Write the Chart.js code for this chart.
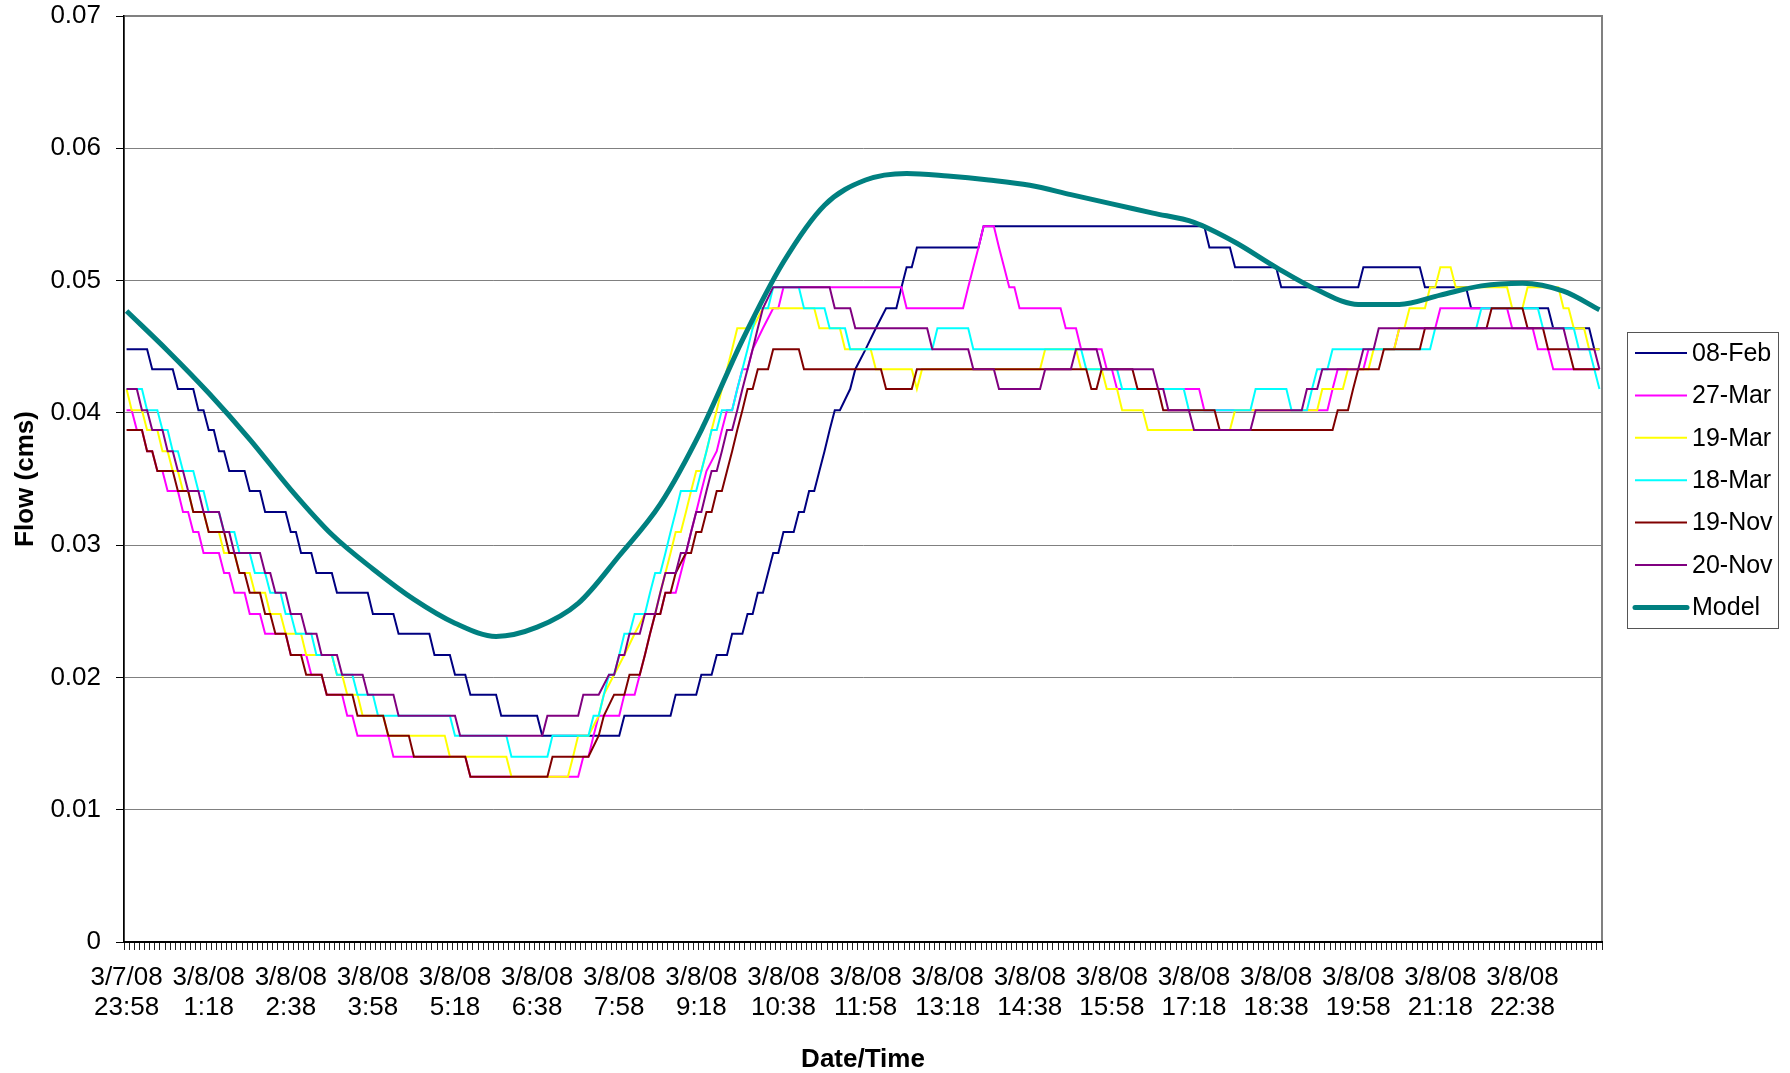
<!DOCTYPE html>
<html><head><meta charset="utf-8">
<script src="https://cdn.jsdelivr.net/npm/chart.js@4.4.0/dist/chart.umd.min.js"></script>
<style>
html,body{margin:0;padding:0;background:#fff;}
canvas{display:block;}
</style></head><body>
<canvas id="c" width="1790" height="1073"></canvas>
<script>
// x = sample index (5-minute samples starting 3/7/08 23:58), y = flow (cms)
const tickLabels = [["3/7/08","23:58"],["3/8/08","1:18"],["3/8/08","2:38"],["3/8/08","3:58"],["3/8/08","5:18"],["3/8/08","6:38"],["3/8/08","7:58"],["3/8/08","9:18"],["3/8/08","10:38"],["3/8/08","11:58"],["3/8/08","13:18"],["3/8/08","14:38"],["3/8/08","15:58"],["3/8/08","17:18"],["3/8/08","18:38"],["3/8/08","19:58"],["3/8/08","21:18"],["3/8/08","22:38"]];
const yTickLabels = ["0","0.01","0.02","0.03","0.04","0.05","0.06","0.07"];
const seriesNames = ["08-Feb","27-Mar","19-Mar","18-Mar","19-Nov","20-Nov","Model"];

const feb08 = [[0,.0448],[4,.0448],[5,.0433],[9,.0433],[10,.0418],[13,.0418],[14,.0402],[15,.0402],[16,.0387],[17,.0387],[18,.0371],[19,.0371],[20,.0356],[23,.0356],[24,.0341],[26,.0341],[27,.0325],[31,.0325],[32,.0310],[33,.0310],[34,.0294],[36,.0294],[37,.0279],[40,.0279],[41,.0264],[47,.0264],[48,.0248],[52,.0248],[53,.0233],[59,.0233],[60,.0217],[63,.0217],[64,.0202],[66,.0202],[67,.0187],[72,.0187],[73,.0171],[80,.0171],[81,.0156],[96,.0156],[97,.0171],[106,.0171],[107,.0187],[111,.0187],[112,.0202],[114,.0202],[115,.0217],[117,.0217],[118,.0233],[120,.0233],[121,.0248],[122,.0248],[123,.0264],[124,.0264],[126,.0294],[127,.0294],[128,.0310],[130,.0310],[131,.0325],[132,.0325],[133,.0341],[134,.0341],[135,.0356],[136,.0371],[137,.0387],[138,.0402],[139,.0402],[141,.0418],[142,.0433],[144,.0448],[146,.0464],[148,.0479],[150,.0479],[151,.0495],[152,.0510],[153,.0510],[154,.0525],[166,.0525],[167,.0541],[210,.0541],[211,.0525],[215,.0525],[216,.0510],[224,.0510],[225,.0495],[240,.0495],[241,.0510],[252,.0510],[253,.0495],[261,.0495],[262,.0479],[277,.0479],[278,.0464],[285,.0464],[286,.0448],[287,.0448]];

const mar27 = [[0,.0402],[1,.0402],[2,.0387],[3,.0387],[4,.0371],[5,.0371],[6,.0356],[7,.0356],[8,.0341],[10,.0341],[11,.0325],[12,.0325],[13,.0310],[14,.0310],[15,.0294],[18,.0294],[19,.0279],[20,.0279],[21,.0264],[23,.0264],[24,.0248],[26,.0248],[27,.0233],[31,.0233],[32,.0217],[35,.0217],[36,.0202],[38,.0202],[39,.0187],[42,.0187],[43,.0171],[44,.0171],[45,.0156],[51,.0156],[52,.0140],[66,.0140],[67,.0125],[88,.0125],[89,.0140],[90,.0140],[91,.0156],[92,.0171],[96,.0171],[97,.0187],[99,.0187],[100,.0202],[101,.0217],[102,.0233],[103,.0248],[104,.0248],[105,.0264],[107,.0264],[108,.0279],[109,.0294],[110,.0310],[111,.0325],[112,.0341],[113,.0356],[115,.0371],[116,.0387],[117,.0402],[118,.0402],[119,.0418],[120,.0433],[121,.0433],[122,.0448],[124,.0464],[126,.0479],[127,.0479],[128,.0495],[151,.0495],[152,.0479],[163,.0479],[164,.0495],[165,.0510],[166,.0525],[167,.0541],[169,.0541],[170,.0525],[171,.0510],[172,.0495],[173,.0495],[174,.0479],[182,.0479],[183,.0464],[185,.0464],[186,.0448],[190,.0448],[191,.0433],[192,.0433],[193,.0418],[209,.0418],[210,.0402],[234,.0402],[235,.0418],[236,.0433],[241,.0433],[242,.0448],[247,.0448],[248,.0464],[255,.0464],[256,.0479],[269,.0479],[270,.0464],[274,.0464],[275,.0448],[277,.0448],[278,.0433],[287,.0433]];

const mar19 = [[0,.0418],[1,.0402],[3,.0402],[4,.0387],[6,.0387],[7,.0371],[8,.0371],[9,.0356],[10,.0356],[11,.0341],[12,.0341],[13,.0325],[15,.0325],[16,.0310],[18,.0310],[19,.0294],[21,.0294],[22,.0279],[24,.0279],[25,.0264],[27,.0264],[28,.0248],[30,.0248],[31,.0233],[34,.0233],[35,.0217],[40,.0217],[41,.0202],[42,.0202],[43,.0187],[45,.0187],[46,.0171],[50,.0171],[51,.0156],[62,.0156],[63,.0140],[74,.0140],[75,.0125],[86,.0125],[87,.0140],[88,.0156],[90,.0156],[92,.0171],[93,.0187],[95,.0202],[97,.0217],[99,.0233],[101,.0248],[103,.0248],[104,.0264],[105,.0279],[106,.0294],[107,.0310],[108,.0310],[109,.0325],[110,.0341],[111,.0356],[112,.0356],[113,.0371],[114,.0387],[115,.0402],[116,.0418],[117,.0433],[118,.0448],[119,.0464],[122,.0464],[124,.0479],[134,.0479],[135,.0464],[139,.0464],[140,.0448],[145,.0448],[146,.0433],[153,.0433],[154,.0418],[155,.0433],[178,.0433],[179,.0448],[185,.0448],[186,.0433],[190,.0433],[191,.0418],[193,.0418],[194,.0402],[198,.0402],[199,.0387],[215,.0387],[216,.0402],[232,.0402],[233,.0418],[237,.0418],[238,.0433],[242,.0433],[243,.0448],[247,.0448],[248,.0464],[249,.0464],[250,.0479],[253,.0479],[254,.0495],[255,.0495],[256,.0510],[258,.0510],[259,.0495],[269,.0495],[270,.0479],[272,.0479],[273,.0495],[279,.0495],[280,.0479],[281,.0479],[282,.0464],[284,.0464],[285,.0448],[287,.0448]];

const mar18 = [[0,.0418],[3,.0418],[4,.0402],[6,.0402],[7,.0387],[8,.0387],[9,.0371],[10,.0371],[11,.0356],[13,.0356],[14,.0341],[15,.0341],[16,.0325],[18,.0325],[19,.0310],[21,.0310],[22,.0294],[24,.0294],[25,.0279],[27,.0279],[28,.0264],[30,.0264],[31,.0248],[32,.0248],[33,.0233],[36,.0233],[37,.0217],[40,.0217],[41,.0202],[44,.0202],[45,.0187],[48,.0187],[49,.0171],[63,.0171],[64,.0156],[74,.0156],[75,.0140],[82,.0140],[83,.0156],[90,.0156],[91,.0171],[92,.0171],[93,.0187],[94,.0202],[95,.0202],[96,.0217],[97,.0233],[98,.0233],[99,.0248],[101,.0248],[102,.0264],[103,.0279],[104,.0279],[105,.0294],[106,.0310],[107,.0325],[108,.0341],[111,.0341],[112,.0356],[113,.0371],[114,.0387],[115,.0387],[116,.0402],[118,.0402],[119,.0418],[120,.0433],[121,.0448],[122,.0464],[123,.0479],[125,.0479],[126,.0495],[131,.0495],[132,.0479],[136,.0479],[137,.0464],[140,.0464],[141,.0448],[157,.0448],[158,.0464],[164,.0464],[165,.0448],[186,.0448],[187,.0433],[193,.0433],[194,.0418],[206,.0418],[207,.0402],[219,.0402],[220,.0418],[226,.0418],[227,.0402],[230,.0402],[231,.0418],[232,.0433],[234,.0433],[235,.0448],[254,.0448],[255,.0464],[263,.0464],[264,.0479],[275,.0479],[276,.0464],[282,.0464],[283,.0448],[285,.0448],[287,.0418]];

const nov19 = [[0,.0387],[3,.0387],[4,.0371],[5,.0371],[6,.0356],[9,.0356],[10,.0341],[12,.0341],[13,.0325],[15,.0325],[16,.0310],[19,.0310],[20,.0294],[21,.0294],[22,.0279],[23,.0279],[24,.0264],[26,.0264],[27,.0248],[28,.0248],[29,.0233],[31,.0233],[32,.0217],[34,.0217],[35,.0202],[38,.0202],[39,.0187],[44,.0187],[45,.0171],[50,.0171],[51,.0156],[55,.0156],[56,.0140],[66,.0140],[67,.0125],[82,.0125],[83,.0140],[90,.0140],[92,.0156],[93,.0171],[95,.0187],[97,.0187],[98,.0202],[100,.0202],[101,.0217],[102,.0233],[103,.0248],[104,.0248],[105,.0264],[106,.0264],[107,.0279],[109,.0294],[110,.0294],[111,.0310],[112,.0310],[113,.0325],[114,.0325],[115,.0341],[116,.0341],[117,.0356],[118,.0371],[119,.0387],[120,.0402],[121,.0418],[122,.0418],[123,.0433],[125,.0433],[126,.0448],[131,.0448],[132,.0433],[147,.0433],[148,.0418],[153,.0418],[154,.0433],[187,.0433],[188,.0418],[189,.0418],[190,.0433],[196,.0433],[197,.0418],[201,.0418],[202,.0402],[212,.0402],[213,.0387],[235,.0387],[236,.0402],[238,.0402],[239,.0418],[240,.0433],[244,.0433],[245,.0448],[252,.0448],[253,.0464],[265,.0464],[266,.0479],[272,.0479],[273,.0464],[276,.0464],[277,.0448],[281,.0448],[282,.0433],[287,.0433]];

const nov20 = [[0,.0418],[2,.0418],[3,.0402],[4,.0402],[5,.0387],[7,.0387],[8,.0371],[9,.0371],[10,.0356],[11,.0356],[12,.0341],[14,.0341],[15,.0325],[18,.0325],[19,.0310],[20,.0310],[21,.0294],[26,.0294],[27,.0279],[28,.0279],[29,.0264],[31,.0264],[32,.0248],[34,.0248],[35,.0233],[37,.0233],[38,.0217],[41,.0217],[42,.0202],[46,.0202],[47,.0187],[52,.0187],[53,.0171],[64,.0171],[65,.0156],[81,.0156],[82,.0171],[88,.0171],[89,.0187],[92,.0187],[94,.0202],[95,.0202],[96,.0217],[97,.0217],[98,.0233],[100,.0233],[101,.0248],[103,.0248],[104,.0264],[105,.0279],[107,.0279],[108,.0294],[109,.0294],[110,.0310],[111,.0325],[112,.0325],[113,.0341],[114,.0356],[115,.0356],[116,.0371],[117,.0387],[118,.0387],[119,.0402],[120,.0418],[121,.0433],[122,.0448],[123,.0464],[124,.0479],[126,.0495],[137,.0495],[138,.0479],[141,.0479],[142,.0464],[156,.0464],[157,.0448],[164,.0448],[165,.0433],[169,.0433],[170,.0418],[178,.0418],[179,.0433],[184,.0433],[185,.0448],[189,.0448],[190,.0433],[200,.0433],[201,.0418],[202,.0418],[203,.0402],[207,.0402],[208,.0387],[219,.0387],[220,.0402],[229,.0402],[230,.0418],[232,.0418],[233,.0433],[240,.0433],[241,.0448],[243,.0448],[244,.0464],[280,.0464],[281,.0448],[286,.0448],[287,.0433]];

const model = [[0,.0477],[8,.0447],[16,.0415],[24,.0380],[32,.0342],[40,.0308],[48,.0282],[56,.0259],[64,.0241],[72,.0231],[80,.0238],[88,.0256],[96,.0292],[104,.0331],[112,.0387],[120,.0455],[128,.0514],[136,.0557],[144,.0576],[152,.0581],[160,.0579],[168,.0576],[176,.0572],[184,.0565],[192,.0558],[200,.0551],[208,.0544],[216,.0529],[224,.0510],[232,.0493],[240,.0482],[248,.0482],[256,.0489],[264,.0496],[272,.0498],[280,.0492],[287,.0478]];

const seriesData = [feb08, mar27, mar19, mar18, nov19, nov20, model];
const seriesColors = ["#000080","#FF00FF","#FFFF00","#00FFFF","#800000","#800080","#008080"];
const nCategories = 288;
const labelEvery = 16;

const FONT = '"Liberation Sans", Arial, Helvetica, sans-serif';
Chart.defaults.font.family = FONT;
Chart.defaults.color = '#000';

const boundaries = [];
for (let i = 0; i <= nCategories; i++) boundaries.push(i - 0.5);

const datasets = seriesData.map((arr, i) => {
  const isModel = seriesNames[i] === 'Model';
  return {
    label: seriesNames[i],
    data: arr.map(p => ({x: p[0], y: p[1]})),
    borderColor: seriesColors[i],
    backgroundColor: seriesColors[i],
    borderWidth: isModel ? 5 : 2,
    pointRadius: 0,
    fill: false,
    tension: 0,
    cubicInterpolationMode: isModel ? 'monotone' : 'default',
    borderJoinStyle: 'miter',
    order: seriesData.length - 1 - i
  };
});

const plotFrame = {
  id: 'plotFrame',
  beforeDraw(chart) {
    const a = chart.chartArea, ctx = chart.ctx;
    ctx.save();
    ctx.fillStyle = '#fff';
    ctx.fillRect(0, 0, chart.width, chart.height);
    ctx.strokeStyle = '#808080';
    ctx.lineWidth = 2;
    ctx.strokeRect(a.left, a.top, a.right - a.left, a.bottom - a.top);
    ctx.restore();
  }
};

const boxLegend = {
  id: 'boxLegend',
  afterDraw(chart) {
    const ctx = chart.ctx;
    const x0 = 1627, y0 = 332, w = 151, h = 296;
    ctx.save();
    ctx.strokeStyle = '#555';
    ctx.lineWidth = 1;
    ctx.strokeRect(x0 + 0.5, y0 + 0.5, w, h);
    ctx.font = '25px ' + FONT;
    ctx.textBaseline = 'middle';
    ctx.textAlign = 'left';
    chart.data.datasets.forEach((ds, i) => {
      const cy = 353 + i * 42.4;
      ctx.strokeStyle = ds.borderColor;
      ctx.lineWidth = ds.borderWidth;
      ctx.lineCap = ds.borderWidth > 3 ? 'round' : 'butt';
      ctx.beginPath();
      ctx.moveTo(1635, cy);
      ctx.lineTo(1687, cy);
      ctx.stroke();
      ctx.fillStyle = '#000';
      ctx.fillText(ds.label, 1692, cy + 1);
    });
    ctx.restore();
  }
};

new Chart(document.getElementById('c'), {
  type: 'line',
  data: { datasets },
  plugins: [plotFrame, boxLegend],
  options: {
    responsive: false,
    devicePixelRatio: 1,
    animation: false,
    layout: { padding: { left: 0, right: 188, top: 16, bottom: 0 } },
    plugins: { legend: { display: false }, tooltip: { enabled: false } },
    scales: {
      x: {
        type: 'linear',
        min: -0.5,
        max: nCategories - 0.5,
        afterBuildTicks: s => { s.ticks = boundaries.map(v => ({ value: v })); },
        afterFit: s => { s.height = 131; s.paddingLeft = 0; s.paddingRight = 0; },
        ticks: {
          autoSkip: false,
          maxRotation: 0,
          minRotation: 0,
          padding: 13,
          labelOffset: 2.57,
          color: '#000',
          font: { size: 26, lineHeight: '30px' },
          callback: (v) => {
            const n = Math.round(v + 0.5);
            if (n % labelEvery === 0 && n / labelEvery < tickLabels.length) return tickLabels[n / labelEvery];
            return '';
          }
        },
        grid: { drawOnChartArea: false, drawTicks: true, tickLength: 8, tickColor: '#222', tickWidth: 1 },
        border: { display: true, color: '#000', width: 2 },
        title: { display: true, text: 'Date/Time', color: '#000', font: { size: 26, weight: 'bold', lineHeight: 1.0 }, padding: { top: 0, bottom: 0 } }
      },
      y: {
        min: 0,
        max: 0.07,
        afterFit: s => { s.width = 124; s.paddingTop = 0; s.paddingBottom = 0; },
        ticks: {
          stepSize: 0.01,
          padding: 15,
          color: '#000',
          font: { size: 26 },
          callback: (v, i) => yTickLabels[i]
        },
        grid: { color: '#808080', lineWidth: 1, drawTicks: true, tickLength: 8, tickColor: '#000' },
        border: { display: true, color: '#000', width: 1.5 },
        title: { display: true, text: 'Flow (cms)', color: '#000', font: { size: 26, weight: 'bold' }, padding: { top: 10, bottom: 0 } }
      }
    }
  }
});
</script>
</body></html>
